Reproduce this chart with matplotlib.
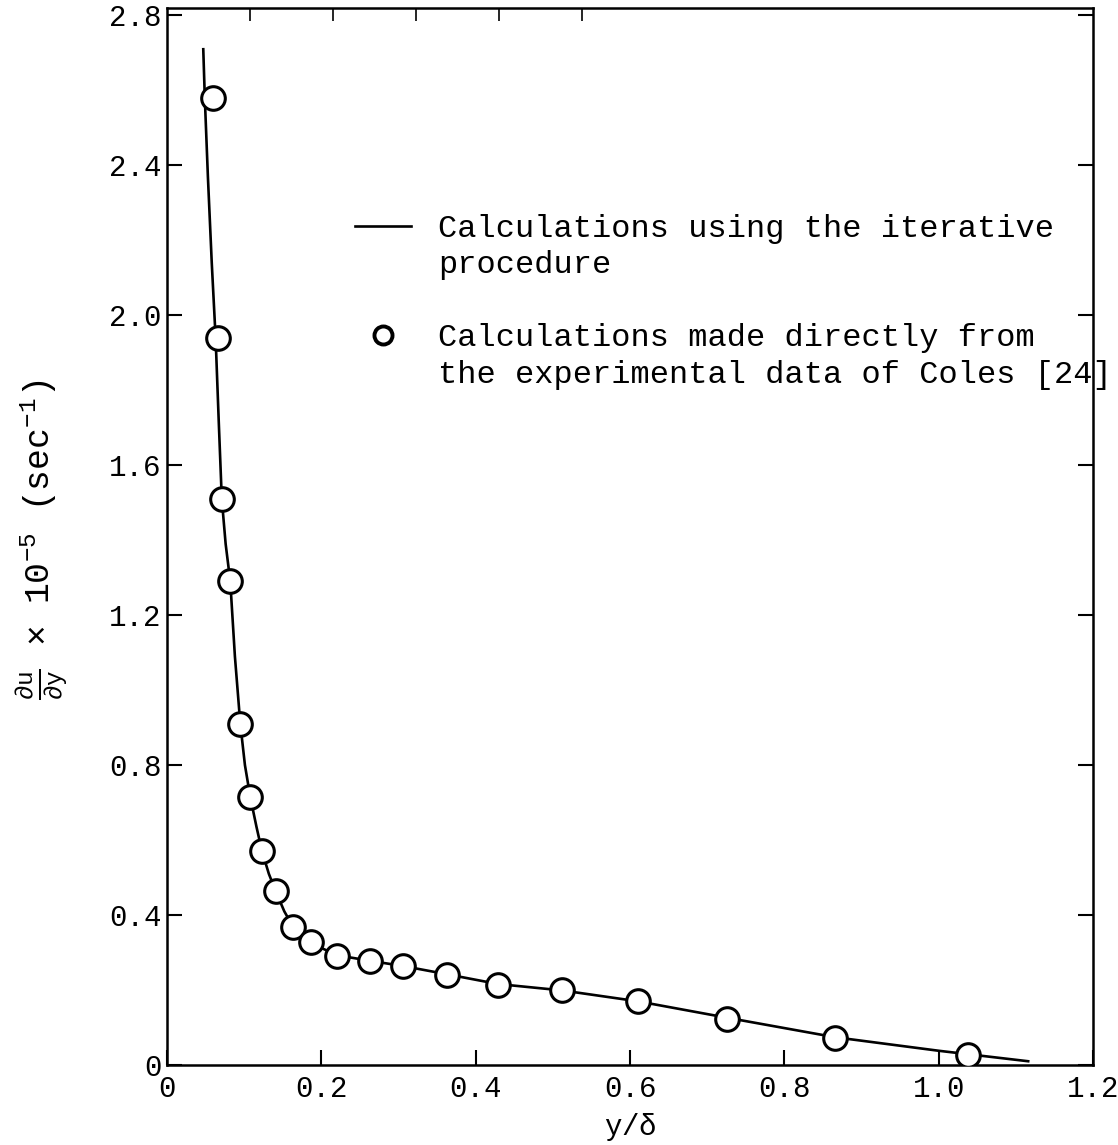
import matplotlib
matplotlib.use("Agg")
import matplotlib.pyplot as plt
from matplotlib.lines import Line2D

plt.rcParams['font.family'] = ['Liberation Mono', 'DejaVu Sans']
plt.rcParams['mathtext.fontset'] = 'custom'
plt.rcParams['mathtext.rm'] = 'Liberation Mono'
plt.rcParams['mathtext.it'] = 'Liberation Mono'

# circles: calculations directly from Coles' experimental data
pts_x = [0.060, 0.066, 0.071, 0.082, 0.095, 0.108, 0.123, 0.141, 0.163, 0.187,
         0.220, 0.263, 0.306, 0.363, 0.429, 0.512, 0.610, 0.726, 0.866, 1.038]
pts_y = [2.58, 1.94, 1.51, 1.29, 0.91, 0.714, 0.571, 0.463, 0.368, 0.328,
         0.291, 0.278, 0.265, 0.241, 0.214, 0.201, 0.172, 0.124, 0.071, 0.026]

# solid line: iterative procedure
line_x = [0.047, 0.049, 0.053, 0.058, 0.063, 0.067, 0.071, 0.076, 0.082, 0.088,
          0.095, 0.101, 0.108, 0.116, 0.123, 0.132, 0.141, 0.152, 0.163, 0.175,
          0.190, 0.220, 0.263, 0.306, 0.363, 0.429, 0.512, 0.610, 0.726, 0.866,
          1.000, 1.116]
line_y = [2.71, 2.58, 2.37, 2.14, 1.94, 1.72, 1.51, 1.39, 1.29, 1.09,
          0.91, 0.80, 0.714, 0.635, 0.571, 0.510, 0.463, 0.410, 0.370, 0.343,
          0.322, 0.293, 0.278, 0.264, 0.242, 0.216, 0.199, 0.170, 0.126, 0.074,
          0.038, 0.010]

xticks = [0, 0.2, 0.4, 0.6, 0.8, 1.0, 1.2]
xticklabels = ['0', '0.2', '0.4', '0.6', '0.8', '1.0', '1.2']
yticks = [0, 0.4, 0.8, 1.2, 1.6, 2.0, 2.4, 2.8]
yticklabels = ['0', '0.4', '0.8', '1.2', '1.6', '2.0', '2.4', '2.8']
top_ticks = [0.108, 0.215, 0.323, 0.430, 0.538]

W, H = 1118, 1145
fig = plt.figure(figsize=(W / 100, H / 100), dpi=100)
ax = fig.add_axes([167 / W, 80 / H, (1093 - 167) / W, (1065 - 8) / H])

ax.plot(line_x, line_y, color='black', lw=1.9, zorder=2)
ax.plot(pts_x, pts_y, 'o', ms=17, mfc='white', mec='black', mew=2.2, zorder=3)

ax.set_xlim(0, 1.2)
ax.set_ylim(0, 2.82)
ax.set_xticks(xticks)
ax.set_xticklabels(xticklabels)
ax.set_yticks(yticks)
ax.set_yticklabels(yticklabels)
ax.tick_params(axis='both', which='major', direction='in', length=11, width=1.5,
               labelsize=21, colors='black')
ax.tick_params(axis='x', which='major', pad=7, top=False, bottom=True)
ax.tick_params(axis='y', which='major', pad=4, left=True, right=True)
ax.set_xticks(top_ticks, minor=True)
ax.tick_params(axis='x', which='minor', bottom=False, top=True, direction='in',
               length=9, width=1.2)
for s in ax.spines.values():
    s.set_linewidth(1.8)

ax.set_xlabel(r'y/$\delta$', fontsize=21, labelpad=6)
ax.set_ylabel(r'$\frac{\partial u}{\partial y}$ $\times$ 10$^{-5}$ (sec$^{-1}$)',
              fontsize=25)
ax.yaxis.set_label_coords(-0.104, (1065 - 540) / (1065 - 8))

handles = [
    Line2D([], [], color='black', lw=1.9),
    Line2D([], [], color='none'),
    Line2D([], [], color='none'),
    Line2D([], [], marker='o', ls='none', ms=13, mfc='white', mec='black', mew=2.8),
    Line2D([], [], color='none'),
]
labels = [
    'Calculations using the iterative',
    'procedure',
    '',
    'Calculations made directly from',
    'the experimental data of Coles [24]',
]
leg = ax.legend(handles, labels, loc='upper left',
                bbox_to_anchor=((355 - 167) / (1093 - 167), 1 - (214 - 8) / (1065 - 8)),
                frameon=False, fontsize=23, handlelength=1.75, handletextpad=0.85,
                labelspacing=0.2, borderpad=0, borderaxespad=0)

fig.savefig('out.png', dpi=100)
